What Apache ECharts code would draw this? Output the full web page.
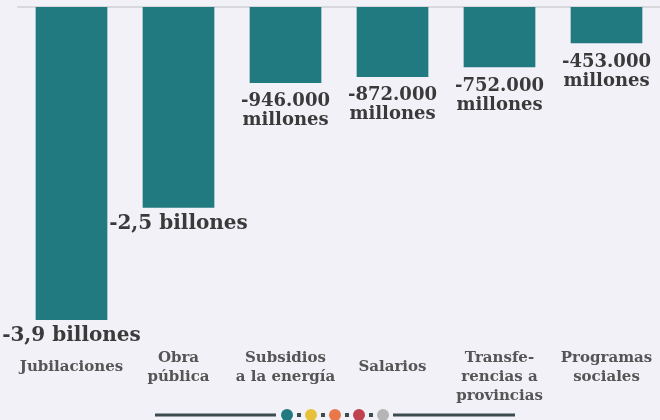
<!DOCTYPE html>
<html>
<head>
<meta charset="utf-8">
<script src="https://cdn.jsdelivr.net/npm/echarts@6/dist/echarts.min.js"></script>
<style>
  html, body { margin: 0; padding: 0; background: #f2f1f8; }
  #chart { width: 660px; height: 420px; }
</style>
</head>
<body>
<div id="chart"></div>
<script>
// recortes por rubro, en billones de pesos
var categories = ["Jubilaciones", "Obra\npública", "Subsidios\na la energía", "Salarios", "Transfe-\nrencias a\nprovincias", "Programas\nsociales"];
var values = [-3.9, -2.5, -0.946, -0.872, -0.752, -0.453];
var valueLabels = ["-3,9 billones", "-2,5 billones", "-946.000\nmillones", "-872.000\nmillones", "-752.000\nmillones", "-453.000\nmillones"];

var teal = "#217a80";
var font = "DejaVu Serif";

// las etiquetas de una sola línea van un poco más abajo
var catData = categories.map(function (c) {
  var oneLine = c.indexOf("\n") < 0;
  return { value: c, textStyle: { padding: [oneLine ? 9 : 0, 0, 0, 0] } };
});

var barData = values.map(function (v, i) {
  var big = valueLabels[i].indexOf("billones") >= 0;
  return {
    value: v,
    label: { fontSize: big ? 20 : 18, lineHeight: big ? 22 : 19, distance: big ? 5 : 9 }
  };
});

// puntos decorativos del pie
var dotColors = ["#217a80", "#e8c13a", "#e8784a", "#c0414f", "#b5b5b5"];
var deco = [
  { type: "line", shape: { x1: 155, y1: 415, x2: 276, y2: 415 }, style: { stroke: "#3b4d4f", lineWidth: 3 } },
  { type: "line", shape: { x1: 393, y1: 415, x2: 515, y2: 415 }, style: { stroke: "#3b4d4f", lineWidth: 3 } }
];
dotColors.forEach(function (c, i) {
  var cx = 287 + i * 24;
  deco.push({ type: "circle", shape: { cx: cx, cy: 415, r: 6 }, style: { fill: c } });
  if (i < dotColors.length - 1) {
    deco.push({ type: "rect", shape: { x: cx + 10, y: 413, width: 4, height: 4 }, style: { fill: "#3b4d4f" } });
  }
});

var chart = echarts.init(document.getElementById("chart"));
chart.setOption({
  backgroundColor: "#f2f1f8",
  animation: false,
  grid: { left: 18, right: 0, top: 7, bottom: 100 },
  xAxis: [
    {
      type: "category",
      data: categories,
      position: "top",
      axisLine: { show: true, lineStyle: { color: "#d8d8dc", width: 2 } },
      axisTick: { show: false },
      axisLabel: { show: false }
    },
    {
      type: "category",
      data: catData,
      position: "bottom",
      axisLine: { show: false },
      axisTick: { show: false },
      axisLabel: {
        interval: 0,
        margin: 29,
        verticalAlign: "top",
        fontFamily: font,
        fontWeight: "bold",
        fontSize: 15,
        lineHeight: 19,
        color: "#555555"
      }
    }
  ],
  yAxis: {
    type: "value",
    min: -3.9,
    max: 0,
    show: false
  },
  series: [
    {
      type: "bar",
      data: barData,
      barWidth: "67%",
      itemStyle: { color: teal },
      label: {
        show: true,
        position: "bottom",
        fontFamily: font,
        fontWeight: "bold",
        color: "#3a3a3a",
        formatter: function (p) { return valueLabels[p.dataIndex]; }
      }
    }
  ],
  graphic: deco
});
</script>
</body>
</html>
